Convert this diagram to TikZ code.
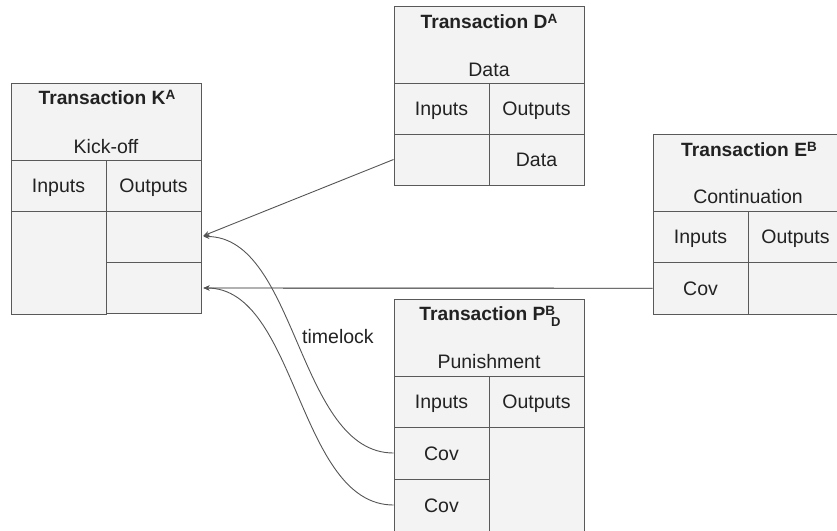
\documentclass[tikz,border=0pt]{standalone}
\usepackage{fontspec}
\setmainfont{Liberation Sans}
\usetikzlibrary{arrows.meta}
\definecolor{boxfill}{HTML}{F3F3F3}
\definecolor{boxline}{HTML}{595959}
\definecolor{txt}{HTML}{222222}
\definecolor{connc}{HTML}{555555}
\definecolor{connd}{HTML}{222222}
\newcommand\mysup[1]{\raisebox{5.5pt}{\fontsize{13.5}{14}\selectfont #1}}
\newcommand\mysub[1]{\raisebox{-6pt}{\fontsize{13}{14}\selectfont #1}}
\begin{document}
\begin{tikzpicture}[x=1pt,y=-1pt,
  cell/.style={draw=boxline, fill=boxfill, line width=0.9pt, inner sep=0pt, text=txt,
    font=\fontsize{19.5}{22}\selectfont, text height=14pt, text depth=0pt},
  ttl/.style={anchor=base, inner sep=0pt, text=txt, font=\fontsize{19.2}{22}\selectfont\bfseries},
  subt/.style={anchor=base, inner sep=0pt, text=txt, font=\fontsize{19.5}{22}\selectfont},
  conn/.style={draw=connc, line width=0.9pt, shorten >=2pt, -{Stealth[length=6pt,width=5pt]}}
]
\useasboundingbox (0,0) rectangle (837,530);
\clip (0,0) rectangle (837,530);

% Transaction K
\node[cell, minimum width=190, minimum height=77] (Khead) at (106,121.5) {};
\node[cell, minimum width=95, minimum height=51] (Kin) at (58.5,185.5) {Inputs};
\node[cell, minimum width=95, minimum height=51] (Kout) at (153.5,185.5) {Outputs};
\node[cell, minimum width=95, minimum height=103] (Kinb) at (58.5,262.5) {};
\node[cell, minimum width=95, minimum height=51] (Ko1) at (153.5,236.5) {};
\node[cell, minimum width=95, minimum height=51.5] (Ko2) at (153.5,288) {};
\node[ttl] (Kttl) at (107,104.5) {Transaction K\mysup{A}};
\node[subt] (Ksub) at (106,153) {Kick-off};

% Transaction D
\node[cell, minimum width=190, minimum height=77] (Dhead) at (489,44.5) {};
\node[cell, minimum width=95, minimum height=51] (Din) at (441.5,108.5) {Inputs};
\node[cell, minimum width=95, minimum height=51] (Dout) at (536.5,108.5) {Outputs};
\node[cell, minimum width=95, minimum height=51] (Dc1) at (441.5,159.5) {};
\node[cell, minimum width=95, minimum height=51] (Dc2) at (536.5,159.5) {Data};
\node[ttl] (Dttl) at (489,28.5) {Transaction D\mysup{A}};
\node[subt] (Dsub) at (489,76) {Data};

% Transaction E
\node[cell, minimum width=190, minimum height=77] (Ehead) at (748,172.5) {};
\node[cell, minimum width=95, minimum height=51.5] (Ein) at (700.5,236.75) {Inputs};
\node[cell, minimum width=95, minimum height=51.5] (Eout) at (795.5,236.75) {Outputs};
\node[cell, minimum width=95, minimum height=51.5] (Ecov) at (700.5,288.25) {Cov};
\node[cell, minimum width=95, minimum height=51.5] (Ec2) at (795.5,288.25) {};
\node[ttl] (Ettl) at (749,156.5) {Transaction E\mysup{B}};
\node[subt] (Esub) at (748,203.5) {Continuation};

% Transaction P
\node[cell, minimum width=190, minimum height=77] (Phead) at (489,337.5) {};
\node[cell, minimum width=95, minimum height=51] (Pin) at (441.5,401.5) {Inputs};
\node[cell, minimum width=95, minimum height=51] (Pout) at (536.5,401.5) {Outputs};
\node[cell, minimum width=95, minimum height=52] (Pc1) at (441.5,453) {Cov};
\node[cell, minimum width=95, minimum height=52] (Pc2) at (441.5,505) {Cov};
\node[cell, minimum width=95, minimum height=104] (Pob) at (536.5,479) {};
\node[ttl] (Pttl) at (490,320.5) {Transaction P\mysup{B}\kern-4pt\mysub{D}};
\node[subt] (Psub) at (489,368) {Punishment};

% connectors
\draw[conn] (Dc1.west) -- (Ko1.east);
\draw[conn, draw=connd] (Ecov.west) -- (Ko2.east);
\draw[conn] (Pc1.west) .. controls +(-96,0) and +(96,0) .. (Ko1.east);
\draw[conn] (Pc2.west) .. controls +(-96,0) and +(96,0) .. (Ko2.east);
\node[subt, anchor=base west] (tl) at (302,343) {timelock};
\end{tikzpicture}
\end{document}
